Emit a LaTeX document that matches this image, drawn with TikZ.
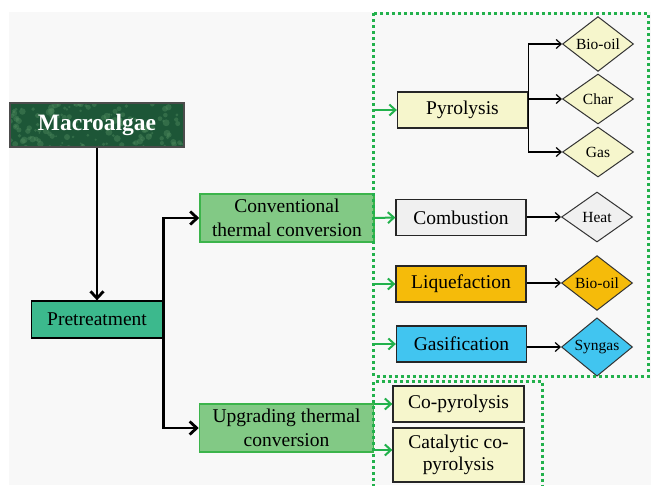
\documentclass[tikz,border=0pt]{standalone}
\usepackage{fontspec}
\setmainfont{Liberation Serif}
\usetikzlibrary{positioning,shapes.geometric,arrows.meta}

\definecolor{paper}{HTML}{F8F8F8}
\definecolor{algaegreen}{HTML}{1D5637}
\definecolor{algaefleck}{HTML}{4E8A5E}
\definecolor{pregreen}{HTML}{3CB98D}
\definecolor{routefill}{HTML}{82C985}
\definecolor{routeline}{HTML}{3CB44B}
\definecolor{dotgreen}{HTML}{22B14C}
\definecolor{paleyellow}{HTML}{F6F6CC}
\definecolor{palegrey}{HTML}{F0F0F0}
\definecolor{amber}{HTML}{F5BB0A}
\definecolor{skyblue}{HTML}{41C5F0}

\begin{document}
\begin{tikzpicture}[x=1pt,y=-1pt,node distance=55pt,on grid,
    box/.style={draw=black!85,line width=1.3pt,minimum width=130pt,minimum height=36pt,
        inner sep=2pt,font=\fontsize{19.5}{23}\selectfont},
    product/.style={diamond,draw=black!80,line width=1pt,minimum width=71pt,
        minimum height=50pt,inner sep=0pt,font=\fontsize{15.5}{18}\selectfont},
    route/.style={draw=routeline,fill=routefill,line width=1.5pt,minimum width=174pt,
        minimum height=48pt,align=center,font=\fontsize{19.5}{23.5}\selectfont},
    feed/.style={-{Straight Barb[length=7pt,width=13pt]},line width=2.8pt},
    inlet/.style={-{Straight Barb[length=6pt,width=11pt]},draw=dotgreen,line width=2pt},
    branch/.style={-{Straight Barb[length=5pt,width=9pt]},line width=1.2pt},
    group/.style={draw=dotgreen,line width=3pt,dash pattern=on 3pt off 3pt},
    mottled/.style={path picture={
        \pgfmathsetseed{11}
        \foreach \k in {1,...,140}
          \fill[algaefleck,opacity=0.45]
            ([shift={(rand*88,rand*23)}]path picture bounding box.center) circle ({1+2.5*rnd});
      }}]

  \useasboundingbox (0,0) rectangle (651,485);
  \fill[paper] (9,12) rectangle (651,485);

  % feedstock and pretreatment
  \node[draw=black!70,fill=algaegreen,mottled,line width=1.2pt,minimum width=174pt,minimum height=44pt,
      text=white,font=\fontsize{23.5}{28}\selectfont\bfseries] (algae) at (97,125) {Macroalgae};
  \node[box,fill=pregreen,draw=black,minimum width=131pt,minimum height=37pt] (pre) at (97,319.5) {Pretreatment};

  % routes
  \node[route] (conv) at (287,218) {Conventional\\thermal conversion};
  \node[route] (upg) at (286.5,428) {Upgrading thermal\\conversion};

  % processes
  \node[box,fill=paleyellow] (pyro) at (462.5,110) {Pyrolysis};
  \node[box,fill=palegrey] (comb) at (461,217.5) {Combustion};
  \node[box,fill=amber] (liq) at (461,284) {Liquefaction};
  \node[box,fill=skyblue] (gasi) at (461.5,344) {Gasification};
  \node[box,fill=paleyellow,minimum width=131pt] (copy) at (458.5,404) {Co-pyrolysis};
  \node[box,fill=paleyellow,minimum width=131pt,minimum height=54pt,align=center,
      font=\fontsize{19.5}{22}\selectfont] (cat) at (458.5,455) {Catalytic co-\\pyrolysis};
  \coordinate (catin) at ([yshift=5pt]cat.west);

  % products
  \node[product,fill=paleyellow] (bio1) at (598,44) {Bio-oil};
  \node[product,fill=paleyellow] (char) [below=55pt of bio1] {Char};
  \node[product,fill=paleyellow] (gas) [below=53pt of char] {Gas};
  \node[product,fill=palegrey] (heat) at (597,217) {Heat};
  \node[product,fill=amber] (bio2) [below=66pt of heat] {Bio-oil};
  \node[product,fill=skyblue] (syn) [below=64pt of bio2] {Syngas};

  % dotted groups
  \draw[group] (373.5,13) rectangle (648,376);
  \draw[group] (373.5,487) |- (542,381) -- (542,487);

  % connectors
  \draw[feed] (algae) -- (pre);
  \draw[feed] (pre.east) |- (conv.west);
  \draw[feed] (pre.east) |- (upg.west);

  \draw[inlet] (conv.east |- pyro.west) -- (pyro.west);
  \draw[inlet] (conv.east) -- (comb.west);
  \draw[inlet] (conv.east |- liq.west) -- (liq.west);
  \draw[inlet] (conv.east |- gasi.west) -- (gasi.west);
  \draw[inlet] (upg.east |- copy.west) -- (copy.west);
  \draw[inlet] (upg.east |- catin) -- (catin);

  \draw[branch] (pyro.east) |- (bio1.west);
  \draw[branch] (pyro.east |- char.west) -- (char.west);
  \draw[branch] (pyro.east) |- (gas.west);
  \draw[branch] (comb.east |- heat.west) -- (heat.west);
  \draw[branch] (liq.east |- bio2.west) -- (bio2.west);
  \draw[branch] (gasi.east |- syn.west) -- (syn.west);
\end{tikzpicture}
\end{document}
